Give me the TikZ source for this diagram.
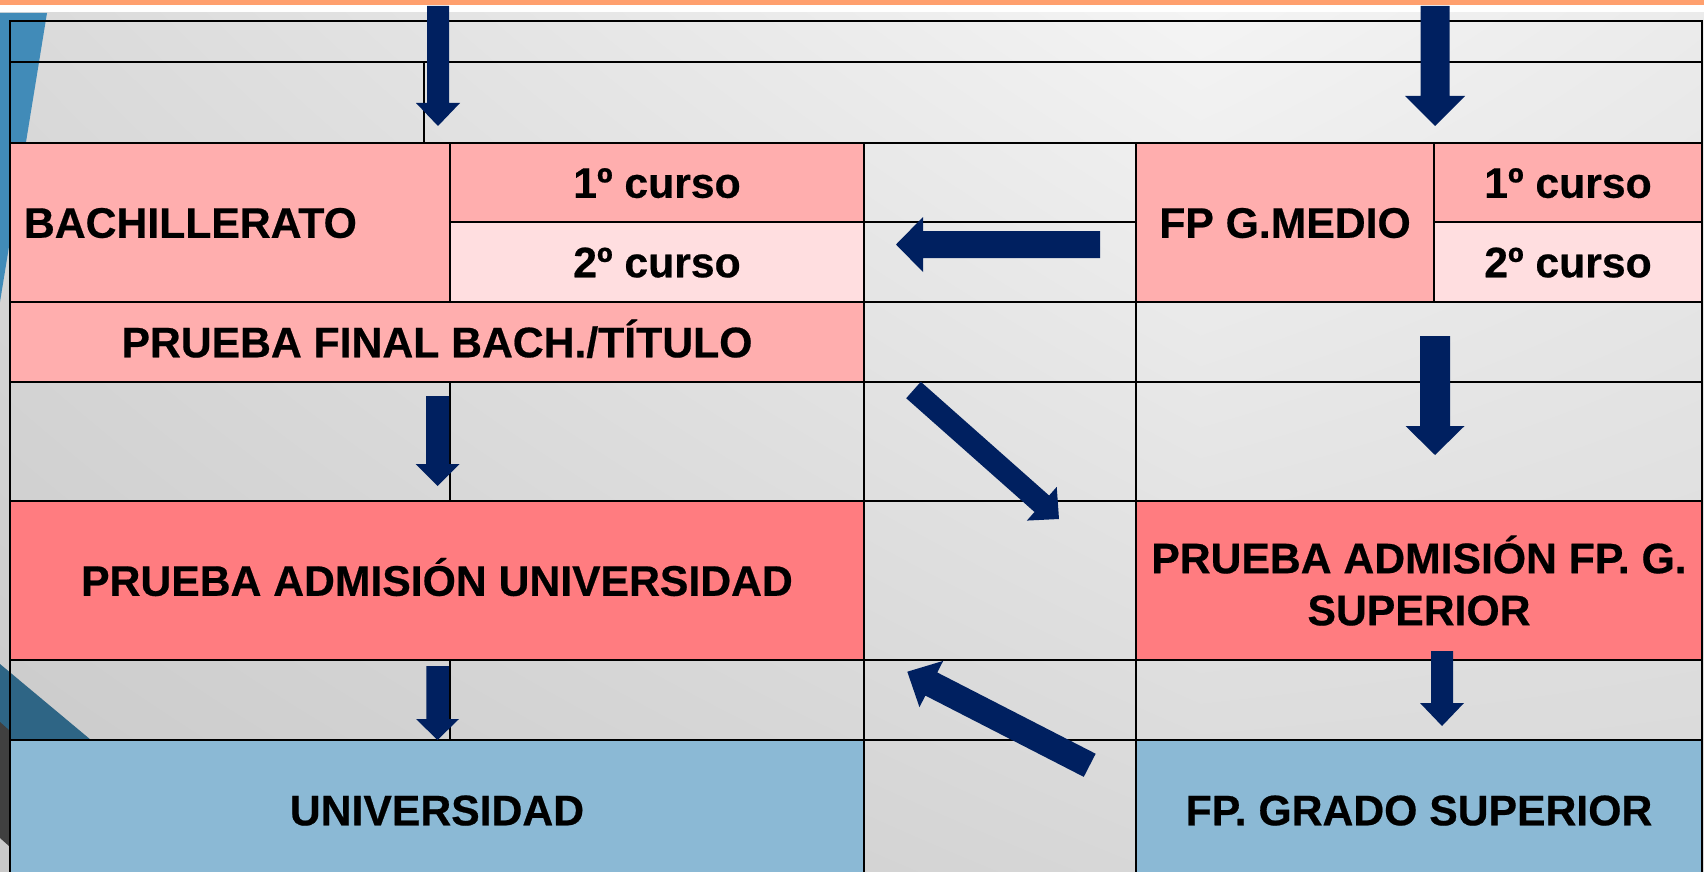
\documentclass[tikz,border=0pt]{standalone}
\usepackage{fontspec}
\setmainfont{Liberation Sans}[BoldFeatures={FakeBold=0.5}]
\usetikzlibrary{calc,shadings}
\definecolor{pinkA}{HTML}{FFAEAE}
\definecolor{pinkL}{HTML}{FFDEE0}
\definecolor{salmon}{HTML}{FF7C80}
\definecolor{skyC}{HTML}{8BB9D5}
\definecolor{navyA}{HTML}{002060}
\definecolor{orangeBar}{HTML}{FFA06E}
\definecolor{decoBlue}{HTML}{418BB8}
\definecolor{decoTeal}{HTML}{2E6585}
\definecolor{decoDark}{HTML}{404040}
\definecolor{bgUL}{HTML}{DADADA}
\definecolor{bgUM}{HTML}{F4F4F4}
\definecolor{bgUR}{HTML}{EBEBEB}
\definecolor{bgLL}{HTML}{C9C9C9}
\definecolor{bgLM}{HTML}{D8D8D8}
\definecolor{bgLR}{HTML}{D8D8D8}
\tikzset{
  cellbase/.style={draw=black, line width=2pt, inner sep=0pt,
    font=\fontsize{42.7}{52}\selectfont\bfseries, text=black},
  cell/.style={cellbase, text height=30.5pt, text depth=0pt},
  arrowfill/.style={fill=navyA},
}
% #1 start, #2 tip, #3 half shaft width, #4 half head width, #5 head length, #6 name of head base
\newcommand\blockarrow[6]{%
  \coordinate (#6) at ($(#2)!#5!(#1)$);
  \fill[arrowfill] ($(#1)!#3!90:(#2)$) -- ($(#6)!#3!90:(#2)$) -- ($(#6)!#4!90:(#2)$)
    -- (#2) -- ($(#6)!#4!-90:(#2)$) -- ($(#6)!#3!-90:(#2)$) -- ($(#1)!#3!-90:(#2)$) -- cycle;}
\begin{document}
\begin{tikzpicture}[x=1pt,y=-1pt]
\useasboundingbox (0,0) rectangle (1704,872);
\clip (0,0) rectangle (1704,872);
\fill[white] (0,0) rectangle (1704,872);
\shade[upper left=bgUL, upper right=bgUM, lower left=bgLL, lower right=bgLM] (0,13) rectangle (1200,872);
\shade[upper left=bgUM, upper right=bgUR, lower left=bgLM, lower right=bgLR] (1200,13) rectangle (1704,872);
\fill[orangeBar] (0,0) rectangle (1704,5);
% slide decorations
\fill[decoBlue] (0,13) -- (47,13) -- (0,302) -- cycle;
\fill[decoTeal] (0,664) -- (91,740) -- (0,740) -- cycle;
\fill[decoDark] (0,722) -- (9,730) -- (9,846) -- (0,838) -- cycle;

% row A and B
\node[cell, minimum width=1692pt, minimum height=41pt] (rowA) at (856,41.5) {};
\node[cell, minimum width=414pt, minimum height=81pt] (rowBa) at (217,102.5) {};
\node[cell, minimum width=1278pt, minimum height=81pt] (rowBb) at (1063,102.5) {};
% rows C/D
\node[cell, fill=pinkA, minimum width=440pt, minimum height=159pt, text width=412pt, inner xsep=14pt, align=left] (bach) at (230,222.5) {BACHILLERATO};
\node[cell, fill=pinkA, minimum width=414pt, minimum height=79pt] (bc1) at (657,182.5) {1º curso};
\node[cell, fill=pinkL, minimum width=414pt, minimum height=80pt] (bc2) at (657,262) {2º curso};
\node[cell, minimum width=272pt, minimum height=79pt] (m1) at (1000,182.5) {};
\node[cell, minimum width=272pt, minimum height=80pt] (m2) at (1000,262) {};
\node[cell, fill=pinkA, minimum width=298pt, minimum height=159pt] (fpm) at (1285,222.5) {FP G.MEDIO};
\node[cell, fill=pinkA, minimum width=268pt, minimum height=79pt] (fc1) at (1568,182.5) {1º curso};
\node[cell, fill=pinkL, minimum width=268pt, minimum height=80pt] (fc2) at (1568,262) {2º curso};
% row E
\node[cell, fill=pinkA, minimum width=854pt, minimum height=80pt] (pfb) at (437,342) {PRUEBA FINAL BACH./TÍTULO};
\node[cell, minimum width=272pt, minimum height=80pt] (e2) at (1000,342) {};
\node[cell, minimum width=566pt, minimum height=80pt] (e3) at (1419,342) {};
% row F
\node[cell, minimum width=440pt, minimum height=119pt] (fa) at (230,441.5) {};
\node[cell, minimum width=414pt, minimum height=119pt] (fb) at (657,441.5) {};
\node[cell, minimum width=272pt, minimum height=119pt] (fcm) at (1000,441.5) {};
\node[cell, minimum width=566pt, minimum height=119pt] (fd) at (1419,441.5) {};
% row G
\node[cell, fill=salmon, minimum width=854pt, minimum height=159pt] (pau) at (437,580.5) {PRUEBA ADMISIÓN UNIVERSIDAD};
\node[cell, minimum width=272pt, minimum height=159pt] (g2) at (1000,580.5) {};
\node[cellbase, fill=salmon, minimum width=566pt, minimum height=159pt, align=center] (pafp) at (1419,580.5) {PRUEBA ADMISIÓN FP. G.\\SUPERIOR};
% row H
\node[cell, minimum width=440pt, minimum height=80pt] (ha) at (230,700) {};
\node[cell, minimum width=414pt, minimum height=80pt] (hb) at (657,700) {};
\node[cell, minimum width=272pt, minimum height=80pt] (hc) at (1000,700) {};
\node[cell, minimum width=566pt, minimum height=80pt] (hd) at (1419,700) {};
% row I
\node[cell, fill=skyC, minimum width=854pt, minimum height=140pt] (univ) at (437,810) {UNIVERSIDAD};
\node[cell, minimum width=272pt, minimum height=140pt] (i2) at (1000,810) {};
\node[cell, fill=skyC, minimum width=566pt, minimum height=140pt] (fpgs) at (1419,810) {FP. GRADO SUPERIOR};

% arrows
\coordinate (a1s) at (438,6);      \coordinate (a1e) at (438,126);
\coordinate (a2s) at (1435,6);     \coordinate (a2e) at (1435,126);
\coordinate (a3s) at (1100,244.5); \coordinate (a3e) at (896,244.5);
\coordinate (a4s) at (913.5,390);  \coordinate (a4e) at (1059,519);
\coordinate (a5s) at (437.5,396);  \coordinate (a5e) at (437.5,486);
\coordinate (a6s) at (1435,336);   \coordinate (a6e) at (1435,455);
\coordinate (a7s) at (437.5,666);  \coordinate (a7e) at (437.5,740);
\coordinate (a8s) at (1442,651);   \coordinate (a8e) at (1442,726);
\coordinate (a9s) at (1089.7,765.3); \coordinate (a9e) at (907.3,671.7);
\blockarrow{a1s}{a1e}{11pt}{22pt}{23pt}{a1b}
\blockarrow{a2s}{a2e}{14.5pt}{30pt}{30pt}{a2b}
\blockarrow{a3s}{a3e}{13.5pt}{27.5pt}{27pt}{a3b}
\blockarrow{a4s}{a4e}{11pt}{22.5pt}{23pt}{a4b}
\blockarrow{a5s}{a5e}{11.5pt}{22pt}{22pt}{a5b}
\blockarrow{a6s}{a6e}{15pt}{29.5pt}{29pt}{a6b}
\blockarrow{a7s}{a7e}{11.25pt}{21.5pt}{21pt}{a7b}
\blockarrow{a8s}{a8e}{11pt}{22pt}{23pt}{a8b}
\blockarrow{a9s}{a9e}{13pt}{26pt}{27pt}{a9b}
\end{tikzpicture}
\end{document}
